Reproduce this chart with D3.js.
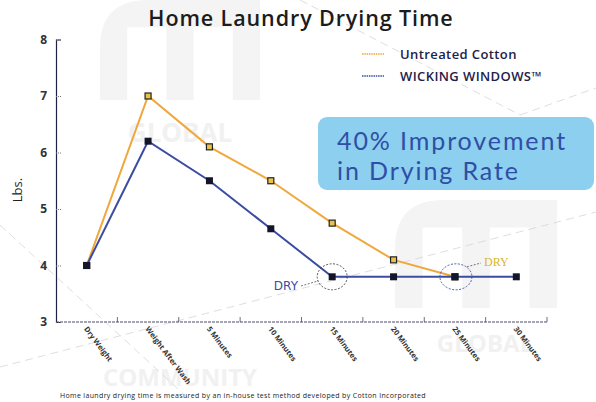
<!DOCTYPE html>
<html>
<head>
<meta charset="utf-8">
<script src="https://cdn.jsdelivr.net/npm/d3@7"></script>
<style>
  body { margin: 0; background: #fff; }
  svg { display: block; font-family: "Open Sans", sans-serif; }
</style>
</head>
<body>
<svg id="chart" width="596" height="402"></svg>
<script>
// chart data
var categories = ["Dry Weight", "Weight After Wash", "5 Minutes", "10 Minutes",
                  "15 Minutes", "20 Minutes", "25 Minutes", "30 Minutes"];
var untreated = [4, 7, 6.1, 5.5, 4.75, 4.1, 3.8];
var wicking = [4, 6.2, 5.5, 4.65, 3.8, 3.8, 3.8, 3.8];
var yTicks = [3, 4, 5, 6, 7, 8];
var seriesNames = ["Untreated Cotton", "WICKING WINDOWS\u2122"];

var svg = d3.select("#chart");
var orange = "#f0a73c", blue = "#3b4ca3", ink = "#1e2148";

// faint watermark (logo blocks, words, dashed lines)
var wm = svg.append("g").attr("id", "watermark");
function logo(x0, y0, w, h) {
    var bw = w * 0.17;
    wm.append("path")
        .attr("d", "M" + x0 + "," + (y0 + h) + " L" + x0 + "," + (y0 + w * 0.3) +
            " Q" + x0 + "," + y0 + " " + (x0 + w * 0.3) + "," + y0 +
            " L" + (x0 + w) + "," + y0 + " L" + (x0 + w) + "," + (y0 + h) +
            " L" + (x0 + w - bw) + "," + (y0 + h) + " L" + (x0 + w - bw) + "," + (y0 + bw) +
            " L" + (x0 + w * 0.5 + bw / 2) + "," + (y0 + bw) + " L" + (x0 + w * 0.5 + bw / 2) + "," + (y0 + h) +
            " L" + (x0 + w * 0.5 - bw / 2) + "," + (y0 + h) + " L" + (x0 + w * 0.5 - bw / 2) + "," + (y0 + bw) +
            " L" + (x0 + bw) + "," + (y0 + bw) + " L" + (x0 + bw) + "," + (y0 + h) + " Z")
        .attr("fill", "#f4f4f4");
}
logo(100, 0, 160, 100);
logo(395, 200, 162, 108);
[[180, 142, "GLOBAL", 26], [180, 386, "COMMUNITY", 24], [485, 352, "GLOBAL", 24]].forEach(function (d) {
    wm.append("text").attr("x", d[0]).attr("y", d[1]).attr("text-anchor", "middle")
        .attr("font-size", d[3]).attr("font-weight", "bold").attr("fill", "#f1f1f1").text(d[2]);
});
[[0, 367, 596, 212], [0, 225, 190, 400], [300, 0, 520, 115], [520, 115, 596, 88]].forEach(function (d) {
    wm.append("line").attr("x1", d[0]).attr("y1", d[1]).attr("x2", d[2]).attr("y2", d[3])
        .attr("stroke", "#d6d6d6").attr("stroke-width", 0.8).attr("stroke-dasharray", "8,5");
});

// scales
var x = d3.scaleBand().domain(categories).range([56, 547]);
var y = d3.scaleLinear().domain([3, 8]).range([322, 39.5]);
var cx = function (i) { return x(categories[i]) + x.bandwidth() / 2; };

// title
svg.append("text").attr("x", 301).attr("y", 26).attr("text-anchor", "middle")
    .attr("font-size", 21.5).attr("font-weight", 600).attr("letter-spacing", 0.9).attr("fill", "#1c1c1c")
    .text("Home Laundry Drying Time");

// y axis
var yAxis = svg.append("g").attr("transform", "translate(56,0)")
    .call(d3.axisLeft(y).tickValues(yTicks).tickSize(-5).tickPadding(9).tickFormat(d3.format("d")));
yAxis.select(".domain").attr("stroke", ink).attr("stroke-width", 1.2);
yAxis.selectAll(".tick line").attr("stroke", "#777").attr("stroke-dasharray", "1,1");
yAxis.selectAll(".tick text").attr("font-size", 12).attr("font-weight", "bold").attr("fill", "#333")
    .attr("font-family", "Open Sans, sans-serif");

svg.append("text").attr("transform", "translate(22,190) rotate(-90)")
    .attr("text-anchor", "middle").attr("font-size", 13).attr("fill", "#222").text("Lbs.");

// x axis line and boundary ticks
svg.append("line").attr("x1", 56).attr("x2", 547).attr("y1", 322).attr("y2", 322)
    .attr("stroke", "#4a4a6a").attr("stroke-width", 1).attr("stroke-dasharray", "3,1");
svg.selectAll(".xtick").data(categories).enter().append("line")
    .attr("class", "xtick")
    .attr("x1", function (d) { return x(d) + x.bandwidth(); })
    .attr("x2", function (d) { return x(d) + x.bandwidth(); })
    .attr("y1", 322).attr("y2", 317)
    .attr("stroke", "#4a4a6a").attr("stroke-width", 0.8);

svg.selectAll(".xlabel").data(categories).enter().append("text")
    .attr("class", "xlabel")
    .attr("transform", function (d) { return "translate(" + (x(d) + x.bandwidth() / 2 - 3) + ",329) rotate(53)"; })
    .attr("font-size", 7.5).attr("font-weight", "bold").attr("fill", "#333")
    .text(function (d) { return d; });

// lines
var line = d3.line().x(function (d, i) { return cx(i); }).y(function (d) { return y(d); });
svg.append("path").datum(untreated).attr("d", line)
    .attr("fill", "none").attr("stroke", orange).attr("stroke-width", 2);
svg.append("path").datum(wicking).attr("d", line)
    .attr("fill", "none").attr("stroke", blue).attr("stroke-width", 2);

// markers
svg.selectAll(".mu").data(untreated).enter().append("rect")
    .attr("class", "mu")
    .attr("x", function (d, i) { return cx(i) - 3; })
    .attr("y", function (d) { return y(d) - 3; })
    .attr("width", 6).attr("height", 6)
    .attr("fill", "#e8c24a").attr("stroke", "#222").attr("stroke-width", 1.2);
svg.selectAll(".mw").data(wicking).enter().append("rect")
    .attr("class", "mw")
    .attr("x", function (d, i) { return cx(i) - 3.5; })
    .attr("y", function (d) { return y(d) - 3.5; })
    .attr("width", 7).attr("height", 7)
    .attr("fill", "#15152a");

// DRY annotations
var p15 = { x: cx(4), y: y(wicking[4]) }, p25 = { x: cx(6), y: y(untreated[6]) };
svg.append("ellipse").attr("cx", p15.x).attr("cy", p15.y).attr("rx", 15).attr("ry", 13)
    .attr("fill", "none").attr("stroke", "#444").attr("stroke-width", 0.9).attr("stroke-dasharray", "2,1.5");
svg.append("line").attr("x1", 301).attr("y1", 286).attr("x2", p15.x - 14).attr("y2", p15.y + 4)
    .attr("stroke", "#555").attr("stroke-width", 0.8).attr("stroke-dasharray", "2,1.5");
svg.append("text").attr("x", 298).attr("y", 290).attr("text-anchor", "end")
    .attr("font-size", 12).attr("fill", blue).attr("font-family", "DejaVu Sans, sans-serif")
    .text("DRY");

svg.append("ellipse").attr("cx", p25.x + 1).attr("cy", p25.y).attr("rx", 16).attr("ry", 13)
    .attr("fill", "none").attr("stroke", "#3b4ca3").attr("stroke-width", 0.9).attr("stroke-dasharray", "2,1.5");
svg.append("line").attr("x1", p25.x + 12).attr("y1", p25.y - 10).attr("x2", 481).attr("y2", 263)
    .attr("stroke", "#555").attr("stroke-width", 0.8).attr("stroke-dasharray", "2,1.5");
svg.append("text").attr("x", 484).attr("y", 266)
    .attr("font-size", 12).attr("fill", "#d8b52c").attr("font-family", "Liberation Serif, serif")
    .text("DRY");

// legend
var legend = svg.append("g").attr("id", "legend");
[orange, blue].forEach(function (c, i) {
    legend.append("line").attr("x1", 362).attr("x2", 384)
        .attr("y1", 54 + i * 22).attr("y2", 54 + i * 22)
        .attr("stroke", c).attr("stroke-width", 1.5).attr("stroke-dasharray", "1.5,0.8");
    legend.append("text").attr("x", 400).attr("y", 58.5 + i * 22)
        .attr("font-size", 13).attr("font-weight", 600).attr("letter-spacing", 0.4).attr("fill", ink)
        .text(seriesNames[i]);
});

// callout box
svg.append("rect").attr("x", 318).attr("y", 117).attr("width", 276).attr("height", 73)
    .attr("rx", 9).attr("fill", "#8dcfee");
svg.append("text").attr("x", 337).attr("y", 150).attr("font-size", 25).attr("letter-spacing", 1.9)
    .attr("font-family", "Lato, sans-serif").attr("fill", "#2f4ea6").text("40% Improvement");
svg.append("text").attr("x", 337).attr("y", 180).attr("font-size", 25).attr("letter-spacing", 1.9)
    .attr("font-family", "Lato, sans-serif").attr("fill", "#2f4ea6").text("in Drying Rate");

// footnote
svg.append("text").attr("x", 60).attr("y", 398).attr("font-size", 7).attr("letter-spacing", 0.35)
    .attr("fill", "#222")
    .text("Home laundry drying time is measured by an in-house test method developed by Cotton Incorporated");
</script>
</body>
</html>
